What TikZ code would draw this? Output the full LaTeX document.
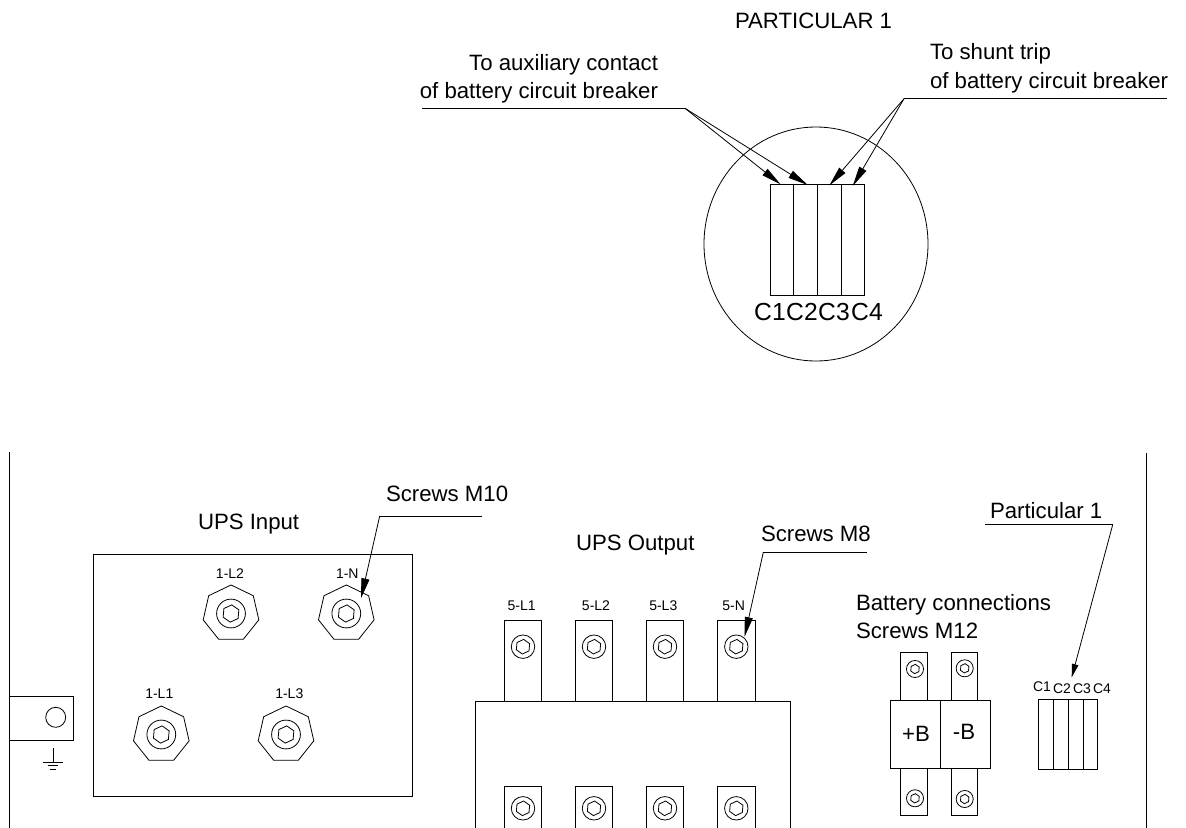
\documentclass[tikz,border=0pt]{standalone}
\usepackage{fontspec}
\setmainfont{Liberation Sans}
\usetikzlibrary{shapes.geometric,arrows.meta}
\tikzset{
  ln/.style={draw=black,line width=0.6pt},
  txt/.style={inner sep=0pt,outer sep=0pt,font=\fontsize{16.65}{18}\selectfont},
  big/.style={txt,anchor=base west},
  bigr/.style={txt,anchor=base east},
  small/.style={inner sep=0pt,outer sep=0pt,anchor=base,font=\fontsize{10.5}{12}\selectfont},
  hd/.style={-{Triangle[length=15pt,width=6pt]}},
  hdsm/.style={-{Triangle[length=10pt,width=5pt]}},
  hept/.style={ln,regular polygon,regular polygon sides=7,minimum size=42.8pt,inner sep=0pt},
  hexL/.style={ln,regular polygon,regular polygon sides=6,shape border rotate=85,minimum size=13pt,inner sep=0pt},
  hexM/.style={ln,regular polygon,regular polygon sides=6,shape border rotate=85,minimum size=11pt,inner sep=0pt},
  hexS/.style={ln,regular polygon,regular polygon sides=6,shape border rotate=85,minimum size=7pt,inner sep=0pt},
  ringL/.style={ln,circle,minimum size=21.6pt,inner sep=0pt},
  ringM/.style={ln,circle,minimum size=17.6pt,inner sep=0pt},
  ringS/.style={ln,circle,minimum size=12.8pt,inner sep=0pt},
  pics/bigscrew/.style={code={\node[hept] (-a) at (0,0) {};\node[ringL] (-b) at (0,0) {};\node[hexL] (-c) at (0,0) {};}},
  pics/midscrew/.style={code={\node[ringM] (-b) at (0,0) {};\node[hexM] (-c) at (0,0) {};}},
  pics/smallscrew/.style={code={\node[ringS] (-b) at (0,0) {};\node[hexS] (-c) at (0,0) {};}},
}
\begin{document}
\begin{tikzpicture}[x=0.75pt,y=-0.75pt]
\useasboundingbox (0,0) rectangle (1186,828);
% --- Particular 1 detail
\node[big] (title) at (735,28.5) {PARTICULAR 1};
\node[bigr] (aux1) at (658,70) {To auxiliary contact};
\node[bigr] (aux2) at (658,98.3) {of battery circuit breaker};
\node[big] (sh1) at (930,60) {To shunt trip};
\node[big] (sh2) at (930,88) {of battery circuit breaker};
\draw[ln] (816,244) ellipse [x radius=112,y radius=117];
\draw[ln] (770,184.3) rectangle (864.3,295.3);
\foreach \x in {793.7,817.3,841.3} \draw[ln] (\x,184.3) -- (\x,295.3);
\foreach \x/\t in {770/C1,802/C2,834/C3,867/C4}
  \node[inner sep=0pt,anchor=base,font=\fontsize{18.5}{20}\selectfont] (d\t) at (\x,320.5) {\t};
\coordinate (auxa) at (422,108.3);
\coordinate (auxb) at (685,108.3);
\coordinate (sha) at (1167,98.7);
\coordinate (shb) at (904,98.7);
\coordinate (t1) at (780.7,184.5);
\coordinate (t2) at (807.7,185);
\coordinate (t3) at (829.3,185.5);
\coordinate (t4) at (852.7,186);
\draw[ln] (auxa) -- (auxb);
\draw[ln] (sha) -- (shb);
\draw[ln,hd] (auxb) -- (t1);
\draw[ln,hd] (auxb) -- (t2);
\draw[ln,hd] (shb) -- (t3);
\draw[ln,hd] (shb) -- (t4);
% --- walls
\draw[ln] (9,452) -- (9,828);
\draw[ln] (1146.7,453) -- (1146.7,828);
% --- earth
\draw[ln] (9,696) rectangle (73,740);
\node[ln,circle,minimum size=15pt,inner sep=0pt] (earth) at (55.7,717.3) {};
\coordinate (ga) at (53,748.3);
\coordinate (gb) at (53,762.3);
\draw[ln] (ga) -- (gb);
\draw[ln] (43.3,762.3) -- (62.7,762.3);
\draw[ln] (47.7,765.7) -- (58.3,765.7);
\draw[ln] (50,769) -- (55.7,769);
% --- UPS input
\node[big] (inlab) at (198,529.3) {UPS Input};
\draw[ln] (93.3,554.7) rectangle (412.7,796);
\pic (s1) at (231,613.5) {bigscrew};
\pic (s2) at (346.3,613.5) {bigscrew};
\pic (s3) at (161.3,734.5) {bigscrew};
\pic (s4) at (286,734.5) {bigscrew};
\node[small] (l1) at (230,578) {1-L2};
\node[small] (l2) at (347.3,578) {1-N};
\node[small] (l3) at (159.3,698) {1-L1};
\node[small] (l4) at (289.3,698) {1-L3};
\node[big] (m10) at (386,501.7) {Screws M10};
\coordinate (m10a) at (482.3,516);
\coordinate (m10b) at (379.7,516);
\coordinate (m10t) at (361,598.3);
\draw[ln] (m10a) -- (m10b);
\draw[ln,hd] (m10b) -- (m10t);
% --- UPS output
\node[big] (outlab) at (576,550) {UPS Output};
\draw[ln] (475,828) -- (475,701.3) -- (790.7,701.3) -- (790.7,828);
\foreach \a/\t/\c/\lx [count=\i] in {504.3/541.7/523/521.7,575.3/612.7/594/596,646.3/683.7/665/663.3,717.7/755/736.3/733.7}{
  \draw[ln] (\a,701.3) -- (\a,620.7) -- (\t,620.7) -- (\t,701.3);
  \draw[ln] (\a,828) -- (\a,786.7) -- (\t,786.7) -- (\t,828);
  \pic (ou\i) at (\c,646.7) {midscrew};
  \pic (od\i) at (\c,808.3) {midscrew};
}
\node[small] (o1) at (521.7,610.7) {5-L1};
\node[small] (o2) at (596,610.7) {5-L2};
\node[small] (o3) at (663.3,610.7) {5-L3};
\node[small] (o4) at (733.7,610.7) {5-N};
\node[big] (m8) at (761,541.7) {Screws M8};
\coordinate (m8a) at (866.7,552.3);
\coordinate (m8b) at (763.3,552.3);
\coordinate (m8t) at (744.5,637);
\draw[ln] (m8a) -- (m8b);
\draw[ln,hd] (m8b) -- (m8t);
% --- battery
\node[big] (b1) at (856,610.7) {Battery connections};
\node[big] (b2) at (856,638.3) {Screws M12};
\draw[ln] (890.3,700) rectangle (990.3,768);
\draw[ln] (940.3,700) -- (940.3,768);
\draw[ln] (900.7,700) -- (900.7,652.7) -- (927.7,652.7) -- (927.7,700);
\draw[ln] (951,700) -- (951,652.7) -- (977.3,652.7) -- (977.3,700);
\draw[ln] (900.7,768) -- (900.7,815.7) -- (927.7,815.7) -- (927.7,768);
\draw[ln] (951,768) -- (951,815.7) -- (977.3,815.7) -- (977.3,768);
\pic (b3) at (915,669) {smallscrew};
\pic (b4) at (964.7,668.3) {smallscrew};
\pic (b5) at (915,798.3) {smallscrew};
\pic (b6) at (964.7,799) {smallscrew};
\node[txt,anchor=base] (pb) at (916,741) {+B};
\node[txt,anchor=base] (mb) at (964,739) {-B};
% --- small terminal
\draw[ln] (1038.3,699.3) rectangle (1097.3,769.3);
\foreach \x in {1053.3,1068.7,1083.3} \draw[ln] (\x,699.3) -- (\x,769.3);
\node[small] (c1) at (1042,691.5) {C1};
\node[small] (c2) at (1062,693.5) {C2};
\node[small] (c3) at (1082,693.5) {C3};
\node[small] (c4) at (1102,693.5) {C4};
\node[big] (p1) at (990,518.3) {Particular 1};
\coordinate (pa) at (985,524.7);
\coordinate (pb2) at (1112.7,524.7);
\coordinate (pt) at (1071.7,677.3);
\draw[ln] (pa) -- (pb2);
\draw[ln,hdsm] (pb2) -- (pt);
\end{tikzpicture}
\end{document}
